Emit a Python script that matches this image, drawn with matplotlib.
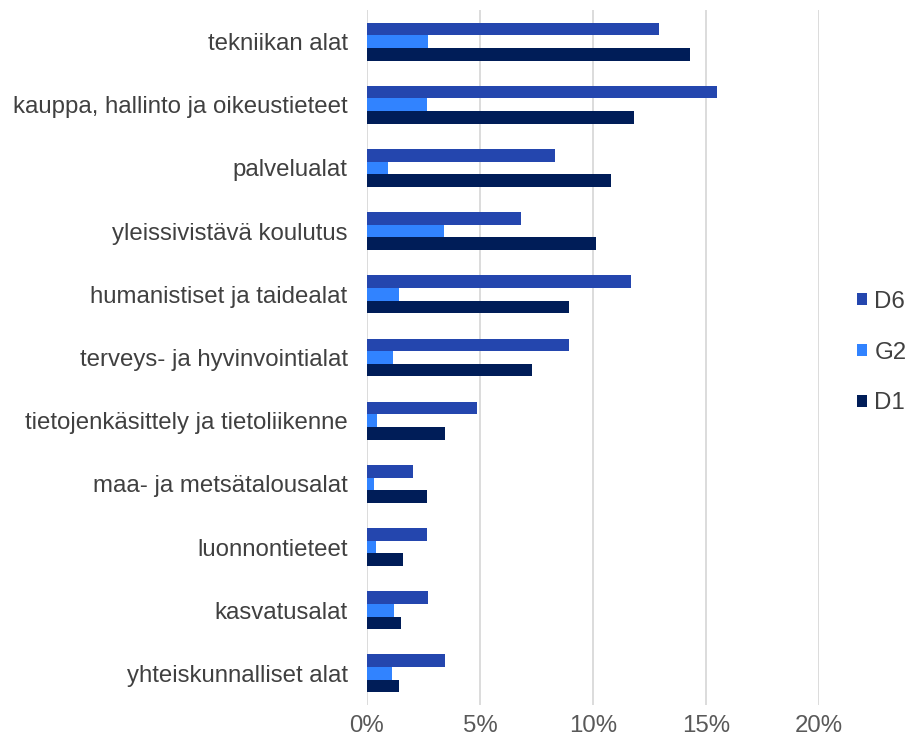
import matplotlib.pyplot as plt
import numpy as np

plt.rcParams['font.family'] = ['Liberation Sans', 'DejaVu Sans']

categories = ['tekniikan alat', 'kauppa, hallinto ja oikeustieteet', 'palvelualat',
              'yleissivistävä koulutus', 'humanistiset ja taidealat',
              'terveys- ja hyvinvointialat', 'tietojenkäsittely ja tietoliikenne',
              'maa- ja metsätalousalat', 'luonnontieteet', 'kasvatusalat',
              'yhteiskunnalliset alat']
d6 = [12.9, 15.5, 8.3, 6.8, 11.7, 8.95, 4.85, 2.05, 2.65, 2.7, 3.45]
g2 = [2.7, 2.65, 0.95, 3.4, 1.4, 1.15, 0.45, 0.3, 0.4, 1.2, 1.1]
d1 = [14.3, 11.8, 10.8, 10.15, 8.95, 7.3, 3.45, 2.65, 1.6, 1.5, 1.4]
series = [('D6', d6, '#2446AE'), ('G2', g2, '#3183FF'), ('D1', d1, '#001D58')]

fig = plt.figure(figsize=(9.07, 7.44), dpi=100)
ax = fig.add_axes([367 / 907, 39 / 744, 452 / 907, 695 / 744])

y = np.arange(len(categories))
h = 0.2
for k, (name, vals, col) in enumerate(series):
    ax.barh(y + (k - 1) * h, vals, height=h, color=col, label=name, zorder=3)

ax.set_ylim(len(categories) - 0.5, -0.5)
ax.set_xlim(0, 20)
ax.set_yticks(y)
ax.set_yticklabels(categories, fontsize=17.3, color='#404040')
ax.set_xticks([0, 5, 10, 15, 20])
ax.set_xticklabels(['0%', '5%', '10%', '15%', '20%'], fontsize=17.3, color='#595959')
ax.tick_params(length=0)
ax.tick_params(axis='y', pad=14)
ax.tick_params(axis='x', pad=7)
ax.grid(axis='x', color='#d9d9d9', linewidth=1.3, zorder=0)
for s in ax.spines.values():
    s.set_visible(False)

ax.legend(loc='center left', bbox_to_anchor=(1.047, 0.507), frameon=False,
          fontsize=17.3, labelcolor='#404040', handlelength=0.42, handleheight=0.42,
          handletextpad=0.3, labelspacing=1.2, borderaxespad=0.3)

fig.savefig('out.png', dpi=100)
